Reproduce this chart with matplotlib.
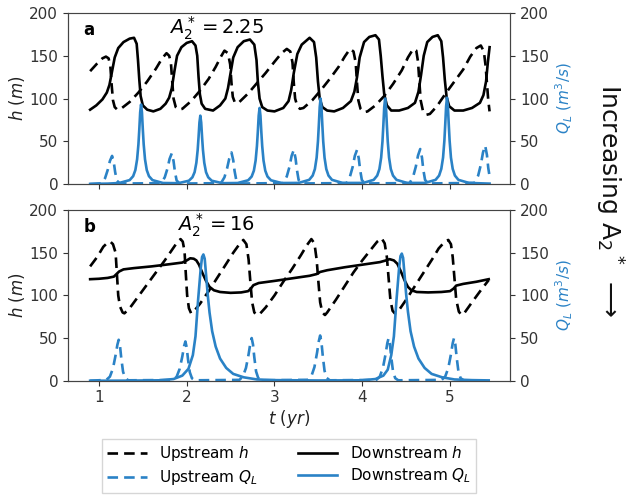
import matplotlib
matplotlib.use("Agg")
import matplotlib.pyplot as plt

# ---------------- Panel a (A2* = 2.25) ----------------
t_up_h_a = [0.90, 0.98, 1.04, 1.08, 1.11, 1.13, 1.145, 1.16, 1.18, 1.21, 1.25,
            1.35, 1.45, 1.55, 1.65, 1.72, 1.77, 1.80, 1.82, 1.835, 1.85, 1.875, 1.91, 1.95,
            2.05, 2.15, 2.25, 2.33, 2.39, 2.43, 2.47, 2.495, 2.51, 2.525, 2.55, 2.59,
            2.70, 2.80, 2.90, 3.00, 3.08, 3.14, 3.18, 3.205, 3.22, 3.235, 3.26, 3.29, 3.33,
            3.43, 3.53, 3.63, 3.73, 3.80, 3.86, 3.90, 3.925, 3.94, 3.955, 3.98, 4.02, 4.06,
            4.15, 4.25, 4.35, 4.45, 4.52, 4.58, 4.615, 4.635, 4.65, 4.665, 4.69, 4.73, 4.77,
            4.85, 4.95, 5.05, 5.15, 5.23, 5.30, 5.35, 5.385, 5.405, 5.42, 5.435, 5.45]
up_h_a = [132, 141, 147, 149, 147, 138, 116, 98, 90, 87, 88,
          96, 107, 120, 135, 147, 153, 150, 142, 120, 100, 90, 87, 88,
          97, 109, 123, 137, 149, 156, 153, 140, 118, 102, 95, 95,
          106, 118, 130, 143, 153, 158, 155, 142, 118, 100, 91, 88, 89,
          98, 110, 123, 137, 149, 158, 155, 142, 118, 98, 88, 84, 85,
          92, 103, 117, 133, 148, 158, 156, 143, 120, 98, 86, 81, 82,
          91, 106, 120, 134, 149, 159, 162, 155, 138, 118, 98, 85]

t_dn_h_a = [0.90, 0.97, 1.04, 1.09, 1.12, 1.15, 1.18, 1.22, 1.28, 1.35, 1.40, 1.43, 1.445, 1.46,
            1.475, 1.50, 1.55, 1.62, 1.70, 1.76, 1.80, 1.83, 1.86, 1.89, 1.94, 2.00, 2.06, 2.10,
            2.12, 2.135, 2.15, 2.17, 2.21, 2.30, 2.38, 2.44, 2.47, 2.50, 2.53, 2.58, 2.65, 2.72,
            2.77, 2.795, 2.81, 2.83, 2.86, 2.92, 3.00, 3.10, 3.16, 3.19, 3.22, 3.26, 3.31, 3.40,
            3.45, 3.475, 3.495, 3.515, 3.545, 3.60, 3.68, 3.78, 3.87, 3.91, 3.94, 3.97, 4.02, 4.08,
            4.15, 4.19, 4.21, 4.23, 4.25, 4.28, 4.33, 4.42, 4.52, 4.60, 4.64, 4.67, 4.70, 4.74,
            4.80, 4.86, 4.90, 4.92, 4.94, 4.96, 4.99, 5.05, 5.15, 5.25, 5.34, 5.38, 5.41, 5.43, 5.45]
dn_h_a = [87, 92, 99, 107, 116, 132, 148, 159, 166, 170, 171, 164, 145, 122,
          103, 92, 87, 85, 88, 94, 101, 112, 132, 150, 160, 165, 167, 162,
          150, 125, 105, 94, 88, 86, 92, 100, 112, 130, 148, 160, 167, 169,
          163, 145, 120, 100, 90, 86, 85, 89, 97, 110, 130, 152, 163, 171,
          166, 148, 120, 100, 90, 86, 85, 89, 97, 108, 125, 148, 166, 172,
          174, 169, 150, 126, 105, 92, 86, 86, 89, 95, 108, 128, 150, 166,
          172, 174, 167, 148, 122, 102, 91, 86, 86, 89, 95, 104, 120, 142, 160]

t_up_q_a = [0.90, 1.03, 1.07, 1.10, 1.125, 1.15, 1.17, 1.185, 1.205, 1.24,
            1.71, 1.75, 1.78, 1.805, 1.83, 1.85, 1.865, 1.885, 1.92,
            2.39, 2.43, 2.46, 2.485, 2.51, 2.53, 2.545, 2.565, 2.60,
            3.10, 3.14, 3.17, 3.195, 3.22, 3.24, 3.255, 3.275, 3.31,
            3.82, 3.86, 3.89, 3.915, 3.94, 3.96, 3.975, 3.995, 4.03,
            4.54, 4.58, 4.61, 4.635, 4.66, 4.68, 4.695, 4.715, 4.75,
            5.28, 5.32, 5.35, 5.375, 5.40, 5.42, 5.435, 5.45]
up_q_a = [0.0, 1.0, 7, 16.5, 27, 33, 25, 14, 4, 0.7,
          1.1, 8, 18, 29.5, 36, 27, 15, 4.3, 0.7,
          1.1, 8, 18.5, 30, 37, 28, 15.5, 4.4, 0.7,
          1.2, 9, 20, 33, 40, 30, 17, 4.8, 0.8,
          1.2, 9, 20, 33, 40, 30, 17, 4.8, 0.8,
          1.2, 9, 20.5, 33.5, 41, 31, 17, 5, 0.8,
          1.4, 10, 22.5, 37, 45, 34, 19, 9]

t_dn_q_a = [0.90, 1.10,
            1.23, 1.35, 1.39, 1.415, 1.435, 1.45, 1.46, 1.47, 1.48, 1.49, 1.50, 1.51, 1.525, 1.545, 1.57, 1.61, 1.73,
            1.905, 2.025, 2.065, 2.09, 2.11, 2.125, 2.135, 2.145, 2.155, 2.165, 2.175, 2.185, 2.20, 2.22, 2.245, 2.285, 2.405,
            2.58, 2.70, 2.74, 2.765, 2.785, 2.80, 2.81, 2.82, 2.83, 2.84, 2.85, 2.86, 2.875, 2.895, 2.92, 2.96, 3.08,
            3.275, 3.395, 3.435, 3.46, 3.48, 3.495, 3.505, 3.515, 3.525, 3.535, 3.545, 3.555, 3.57, 3.59, 3.615, 3.655, 3.775,
            4.01, 4.13, 4.17, 4.195, 4.215, 4.23, 4.24, 4.25, 4.26, 4.27, 4.28, 4.29, 4.305, 4.325, 4.35, 4.39, 4.51,
            4.715, 4.835, 4.875, 4.90, 4.92, 4.935, 4.945, 4.955, 4.965, 4.975, 4.985, 4.995, 5.01, 5.03, 5.055, 5.095, 5.215,
            5.45]
dn_q_a = [0.3, 0.6,
          1.3, 4.7, 9.3, 16.4, 29, 46.5, 64, 84, 93, 84, 64, 46.5, 29, 16.4, 9.3, 4.7, 1.3,
          1.1, 4, 8, 14, 25, 40, 55, 72, 80, 72, 55, 40, 25, 14, 8, 4, 1.1,
          1.3, 4.5, 8.9, 15.7, 27.6, 44.5, 61, 80, 89, 80, 61, 44.5, 27.6, 15.7, 8.9, 4.5, 1.3,
          1.4, 5, 10, 17.6, 31, 50, 69, 90, 100, 90, 69, 50, 31, 17.6, 10, 5, 1.4,
          1.4, 5, 10, 17.6, 31, 50, 69, 90, 100, 90, 69, 50, 31, 17.6, 10, 5, 1.4,
          1.4, 5, 10, 17.8, 31, 50.5, 70, 91, 101, 91, 70, 50.5, 31, 17.8, 10, 5, 1.4,
          0.6]

# ---------------- Panel b (A2* = 16) ----------------
t_up_h_b = [0.90, 0.98, 1.05, 1.10, 1.13, 1.16, 1.19, 1.205, 1.22, 1.24, 1.27, 1.29,
            1.35, 1.45, 1.55, 1.65, 1.75, 1.83, 1.89, 1.93, 1.955, 1.975, 1.99, 2.005, 2.025, 2.05, 2.07,
            2.15, 2.25, 2.35, 2.45, 2.53, 2.60, 2.645, 2.68, 2.705, 2.725, 2.745, 2.77, 2.80, 2.83,
            2.90, 3.00, 3.10, 3.20, 3.30, 3.37, 3.42, 3.455, 3.48, 3.50, 3.52, 3.545, 3.575, 3.60,
            3.70, 3.80, 3.90, 4.00, 4.10, 4.17, 4.22, 4.255, 4.28, 4.30, 4.32, 4.345, 4.37, 4.40,
            4.50, 4.60, 4.70, 4.80, 4.87, 4.94, 4.98, 5.01, 5.03, 5.05, 5.07, 5.10, 5.13, 5.16,
            5.25, 5.35, 5.44]
up_h_b = [134, 145, 157, 162, 163, 160, 150, 125, 100, 87, 80, 79,
          85, 99, 113, 127, 141, 153, 162, 166, 163, 152, 125, 100, 85, 79, 80,
          90, 105, 121, 137, 150, 160, 165, 160, 142, 116, 92, 80, 77, 78,
          86, 100, 116, 131, 147, 159, 166, 161, 142, 116, 92, 80, 77, 80,
          95, 111, 127, 141, 154, 163, 167, 161, 145, 120, 95, 82, 79, 80,
          95, 111, 127, 143, 155, 163, 165, 160, 145, 120, 95, 81, 77, 79,
          92, 106, 118]

t_dn_h_b = [0.90, 1.00, 1.10, 1.17, 1.20, 1.23, 1.28, 1.40, 1.60, 1.80, 1.95, 2.00, 2.04, 2.08,
            2.11, 2.14, 2.18, 2.22, 2.26, 2.31, 2.38, 2.50, 2.62, 2.70, 2.73, 2.76, 2.82, 3.00,
            3.20, 3.40, 3.48, 3.52, 3.60, 3.80, 4.00, 4.20, 4.27, 4.31, 4.36, 4.40, 4.44, 4.48,
            4.52, 4.56, 4.62, 4.75, 4.90, 5.00, 5.04, 5.07, 5.15, 5.30, 5.44]
dn_h_b = [119, 119.5, 120.5, 122, 125, 128, 130.5, 132, 134, 136.5, 138.5, 141, 143.5, 143,
          141, 136, 126, 117, 110, 106, 104, 103, 103.5, 105, 108, 112, 114.5, 117,
          120, 123, 125, 127.5, 129.5, 133, 136, 139, 141, 142.5, 141, 137, 128, 118,
          110, 106, 104, 103.5, 104, 105, 108, 111.5, 113.5, 116, 119]

t_up_q_b = [0.90,
            1.085, 1.125, 1.16, 1.19, 1.21, 1.225, 1.24, 1.255, 1.275, 1.30, 1.335,
            1.845, 1.885, 1.92, 1.95, 1.97, 1.985, 2.00, 2.015, 2.035, 2.06, 2.095,
            2.60, 2.64, 2.675, 2.705, 2.725, 2.74, 2.755, 2.77, 2.79, 2.815, 2.85,
            3.38, 3.42, 3.455, 3.485, 3.505, 3.52, 3.535, 3.55, 3.57, 3.595, 3.63,
            4.16, 4.20, 4.235, 4.265, 4.285, 4.30, 4.315, 4.33, 4.35, 4.375, 4.41,
            4.905, 4.945, 4.98, 5.01, 5.03, 5.045, 5.06, 5.075, 5.095, 5.12, 5.155,
            5.44]
up_q_b = [0.0,
          1, 4.8, 14.4, 30, 42, 48, 41, 26, 10.5, 3, 0.5,
          0.9, 4.6, 14, 28.5, 40.5, 46, 39, 25, 10, 2.8, 0.5,
          1, 5, 15, 31, 44, 50, 42.5, 27.5, 11, 3, 0.5,
          1.1, 5.3, 16, 33, 46.5, 53, 45, 29, 11.7, 3.2, 0.5,
          1, 5, 15, 31, 44, 50, 42.5, 27.5, 11, 3, 0.5,
          1, 5, 15, 31, 44, 50, 42.5, 27.5, 11, 3, 0.5,
          0.0]

t_dn_q_b = [0.90, 1.30, 1.70, 1.85, 1.95, 2.02, 2.07, 2.10, 2.13, 2.16, 2.175, 2.19, 2.205, 2.22,
            2.24, 2.26, 2.29, 2.33, 2.38, 2.45, 2.53, 2.65, 2.80, 3.00, 3.50,
            4.00, 4.15, 4.24, 4.29, 4.33, 4.36, 4.39, 4.42, 4.435, 4.45, 4.465, 4.48, 4.50, 4.52,
            4.55, 4.59, 4.64, 4.71, 4.79, 4.91, 5.05, 5.25, 5.44]
dn_q_b = [0.0, 0.1, 0.5, 2, 6, 14, 30, 52, 95, 132, 145, 148, 143, 125,
          100, 80, 58, 40, 26, 15, 8, 4, 1.5, 0.7, 0.3,
          0.5, 2, 6, 13, 30, 52, 95, 133, 146, 149, 144, 126, 101, 81,
          58, 40, 26, 15, 8, 4, 1.5, 0.7, 0.4]

panels = [
    dict(label="a", title=r"$A_2^*=2.25$", up_h=(t_up_h_a, up_h_a), dn_h=(t_dn_h_a, dn_h_a),
         up_q=(t_up_q_a, up_q_a), dn_q=(t_dn_q_a, dn_q_a)),
    dict(label="b", title=r"$A_2^*=16$", up_h=(t_up_h_b, up_h_b), dn_h=(t_dn_h_b, dn_h_b),
         up_q=(t_up_q_b, up_q_b), dn_q=(t_dn_q_b, dn_q_b)),
]

x_ticks = [1, 2, 3, 4, 5]
y_ticks = [0, 50, 100, 150, 200]

BLUE = "#2a82c6"
TICKC = "#333333"
DASH = (0, (4.0, 2.3))

fig = plt.figure(figsize=(6.29, 4.99), dpi=100)
rects = [[0.108, 0.631, 0.703, 0.343], [0.108, 0.237, 0.703, 0.342]]
handles = []
for i, (p, r) in enumerate(zip(panels, rects)):
    ax = fig.add_axes(r)
    axq = ax.twinx()
    l1, = ax.plot(*p["up_h"], color="black", lw=1.9, linestyle=DASH, label=r"Upstream $h$")
    l3, = ax.plot(*p["dn_h"], color="black", lw=1.9, label=r"Downstream $h$")
    l2, = axq.plot(*p["up_q"], color=BLUE, lw=1.9, linestyle=DASH, label=r"Upstream $Q_L$")
    l4, = axq.plot(*p["dn_q"], color=BLUE, lw=1.9, label=r"Downstream $Q_L$")
    handles = [l1, l2, l3, l4]
    for a in (ax, axq):
        a.set_xlim(0.647, 5.684)
        a.set_ylim(0, 200)
        a.set_yticks(y_ticks)
        a.tick_params(labelsize=11, colors=TICKC, labelcolor=TICKC)
        for s in a.spines.values():
            s.set_color("#444444")
    ax.spines["top"].set_color("#999999")
    ax.set_xticks(x_ticks)
    if i == 0:
        ax.tick_params(labelbottom=False)
    else:
        ax.set_xlabel(r"$t\ (yr)$", fontsize=12, color="#222222", labelpad=2)
    ax.set_ylabel(r"$h\ (m)$", fontsize=12, color="#222222", labelpad=2)
    axq.set_ylabel(r"$Q_L\ (m^3/s)$", fontsize=11, color=BLUE, labelpad=4)
    ax.text(0.035, 0.90, p["label"], transform=ax.transAxes, fontsize=12,
            fontweight="bold", va="center", ha="left")
    ax.text(0.335, 0.91, p["title"], transform=ax.transAxes, fontsize=14,
            va="center", ha="center")

fig.text(0.968, 0.598, r"Increasing A$_2$$^*$ $\longrightarrow$", rotation=-90,
         fontsize=18, va="center", ha="center", color="#111111")

fig.legend(handles=handles, loc="upper center", bbox_to_anchor=(0.4595, 0.136),
           ncol=2, fontsize=11, handlelength=2.6, columnspacing=2.6,
           labelspacing=0.35, borderpad=0.35,
           frameon=True, fancybox=False, edgecolor="#cccccc")

fig.savefig("out.png", dpi=100)
